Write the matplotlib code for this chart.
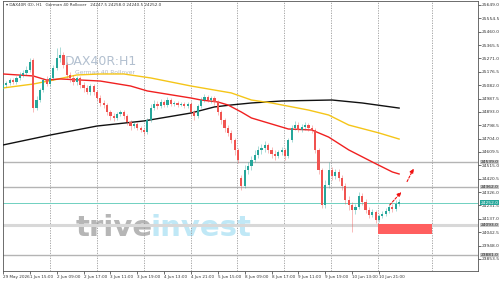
import matplotlib

matplotlib.use("Agg")

import matplotlib.pyplot as plt
import numpy as np

# hourly candles, bar index 0..118 (29 May 21:00 -> 11 Jun 13:00)
opens = [25062, 25083, 25097, 25118, 25104, 25133, 25154, 25168, 25189, 25260,
         24920, 24977, 25048, 25118, 25090, 25133, 25203, 25274, 25295, 25224,
         25154, 25133, 25104, 25133, 25083, 25062, 25034, 25076, 25034, 24991,
         24956, 24942, 24892, 24864, 24850, 24878, 24892, 24864, 24821, 24793,
         24807, 24779, 24765, 24751, 24836, 24920, 24949, 24935, 24963, 24942,
         24977, 24949, 24956, 24942, 24949, 24935, 24949, 24892, 24864, 24935,
         24977, 24998, 24977, 24991, 24963, 24892, 24836, 24779, 24744, 24694,
         24624, 24426, 24369, 24482, 24510, 24553, 24588, 24624, 24638, 24659,
         24624, 24595, 24581, 24609, 24624, 24581, 24694, 24779, 24800, 24765,
         24786, 24800, 24779, 24765, 24624, 24482, 24235, 24376, 24482, 24440,
         24468, 24426, 24369, 24270, 24235, 24199, 24221, 24298, 24256, 24199,
         24164, 24185, 24128, 24157, 24171, 24192, 24221, 24206, 24242]
closes = [25083, 25097, 25118, 25104, 25133, 25154, 25168, 25189, 25246, 24920,
          24977, 25048, 25118, 25090, 25133, 25203, 25274, 25295, 25224, 25154,
          25133, 25104, 25133, 25083, 25062, 25034, 25076, 25034, 24991, 24956,
          24942, 24892, 24864, 24850, 24878, 24892, 24864, 24821, 24793, 24807,
          24779, 24765, 24751, 24836, 24920, 24949, 24935, 24963, 24942, 24977,
          24949, 24956, 24942, 24949, 24935, 24949, 24892, 24864, 24935, 24977,
          24998, 24977, 24991, 24963, 24892, 24836, 24779, 24744, 24694, 24624,
          24553, 24369, 24482, 24510, 24553, 24588, 24624, 24638, 24659, 24624,
          24595, 24581, 24609, 24624, 24581, 24694, 24779, 24800, 24765, 24786,
          24800, 24779, 24765, 24624, 24482, 24235, 24376, 24482, 24440, 24468,
          24426, 24369, 24270, 24235, 24199, 24221, 24298, 24256, 24199, 24164,
          24185, 24128, 24157, 24171, 24192, 24221, 24206, 24242, 24256]
highs = [25097, 25111, 25133, 25133, 25147, 25175, 25189, 25217, 25274, 25274,
         25005, 25062, 25133, 25147, 25154, 25224, 25345, 25352, 25316, 25246,
         25175, 25154, 25147, 25147, 25104, 25083, 25090, 25090, 25048, 25012,
         24977, 24956, 24906, 24885, 24892, 24906, 24906, 24878, 24836, 24821,
         24821, 24793, 24779, 24850, 24949, 24977, 24970, 24984, 24977, 24998,
         24991, 24970, 24970, 24963, 24963, 24963, 24963, 24906, 24949, 24998,
         25020, 25012, 25005, 25005, 24977, 24906, 24850, 24800, 24765, 24708,
         24638, 24447, 24517, 24539, 24581, 24624, 24652, 24666, 24687, 24673,
         24645, 24624, 24624, 24645, 24638, 24708, 24800, 24829, 24821, 24807,
         24821, 24814, 24800, 24779, 24638, 24496, 24411, 24539, 24503, 24489,
         24489, 24447, 24390, 24298, 24256, 24242, 24327, 24320, 24277, 24221,
         24206, 24199, 24171, 24192, 24213, 24242, 24242, 24270, 24277]
lows = [25048, 25069, 25083, 25090, 25090, 25118, 25140, 25154, 25175, 24892,
        24906, 24963, 25034, 25076, 25076, 25118, 25189, 25246, 25203, 25133,
        25104, 25083, 25083, 25062, 25034, 25020, 25012, 25012, 24977, 24935,
        24920, 24871, 24836, 24829, 24836, 24864, 24843, 24800, 24765, 24779,
        24765, 24751, 24729, 24737, 24821, 24906, 24913, 24920, 24928, 24928,
        24935, 24935, 24928, 24935, 24920, 24920, 24864, 24836, 24850, 24920,
        24963, 24963, 24956, 24942, 24871, 24807, 24751, 24722, 24673, 24588,
        24532, 24341, 24355, 24454, 24482, 24539, 24567, 24596, 24609, 24602,
        24567, 24553, 24567, 24588, 24553, 24567, 24680, 24765, 24751, 24751,
        24765, 24758, 24744, 24602, 24454, 24213, 24213, 24355, 24411, 24418,
        24404, 24341, 24242, 24199, 24044, 24171, 24206, 24235, 24178, 24143,
        24150, 24107, 24114, 24143, 24157, 24178, 24185, 24192, 24228]

# moving averages, read at a few bars
ma_red_x = [0, 9, 13, 17, 29, 38, 43, 56, 59, 64, 67, 71, 74, 85, 92, 97, 103, 110, 116, 118]
ma_red_y = [25161, 25147, 25118, 25126, 25111, 25076, 25041, 24991, 24977, 24963,
            24942, 24892, 24850, 24772, 24765, 24715, 24624, 24539, 24468, 24454]
ma_yel_x = [0, 9, 15, 22, 29, 36, 44, 56, 68, 74, 80, 91, 97, 103, 112, 118]
ma_yel_y = [25062, 25090, 25118, 25154, 25161, 25161, 25133, 25076, 25027, 24977,
            24956, 24906, 24871, 24800, 24744, 24701]
ma_blk_x = [0, 14, 28, 42, 56, 63, 68, 74, 83, 98, 107, 118]
ma_blk_y = [24659, 24729, 24793, 24829, 24885, 24928, 24942, 24956, 24970, 24977,
            24956, 24920]

levels = [24539, 24362, 24093, 23881]
level_labels = ["24539.0", "24362.0", "24093.0", "23881.0"]
current = 24252.0
zone = (111.7, 127.8, 24030, 24100)

tick_vals = [23853.5 + 94.5 * k for k in range(20)]
day_seps = [13.9, 28.0, 42.0, 56.0, 69.7, 83.7, 97.7, 111.7, 127.7]
xlabel_pos = [0, 8, 16, 24, 32, 40, 48, 56, 64, 72, 80, 88, 96, 104, 112]
xlabels = ["29 May 2026", "1 Jun 15:00", "2 Jun 09:00", "2 Jun 17:00", "3 Jun 11:00",
           "3 Jun 19:00", "4 Jun 13:00", "4 Jun 21:00", "5 Jun 15:00", "8 Jun 09:00",
           "8 Jun 17:00", "9 Jun 11:00", "9 Jun 19:00", "10 Jun 13:00", "10 Jun 21:00"]

UP = "#26a69a"
DOWN = "#f05350"

fig = plt.figure(figsize=(5.0, 2.81), dpi=100)
ax = fig.add_axes([3 / 500, 10 / 281, 475 / 500, 270 / 281])
ax.set_xlim(0, 141.5)
ax.set_ylim(23768, 25677)

for x in day_seps:
    ax.axvline(x, color="#9a9a9a", ls=(0, (1.5, 1.5)), lw=0.6, zorder=1)

# watermark / logo
ax.text(18.5, 25246, "DAX40R:H1", fontsize=9, color="#9fb0c4", alpha=0.8,
        va="center", zorder=0)
ax.text(21.5, 25170, "German 40 Rollover", fontsize=4.3, color="#b0b8c4",
        va="center", zorder=0)
ax.text(21.5, 24072, "trive", fontsize=21, color="#a4a4a4", alpha=0.8,
        fontweight="bold", va="center", zorder=0)
ax.text(44, 24072, "invest", fontsize=21, color="#b9e6f6", alpha=0.9,
        fontweight="bold", va="center", zorder=0)

for lv in levels:
    ax.axhline(lv, color="#b4b4b4", lw=1.0, zorder=1)
ax.axhline(levels[2], color="#d8d8d8", lw=2.2, zorder=1)
ax.axhline(current, color="#6fd0c0", lw=0.7, zorder=1)

ax.add_patch(plt.Rectangle((zone[0], zone[2]), zone[1] - zone[0], zone[3] - zone[2],
                           color="#ff5f5f", lw=0, zorder=2))

ax.plot(ma_blk_x, ma_blk_y, color="#111111", lw=1.0, zorder=3)
ax.plot(ma_yel_x, ma_yel_y, color="#f5c518", lw=1.0, zorder=3)
ax.plot(ma_red_x, ma_red_y, color="#f02020", lw=1.0, zorder=3)

idx = np.arange(len(opens))
o = np.array(opens)
c = np.array(closes)
col = np.where(c >= o, UP, DOWN)
ax.vlines(idx, lows, highs, colors=col, lw=0.5, alpha=0.55, zorder=4)
ax.bar(idx, np.abs(c - o) + 2, bottom=np.minimum(o, c), width=0.65,
       color=col, lw=0, zorder=5)

# dashed projection arrows
for (x0, y0, x1, y1) in [(114.7, 24221, 119.2, 24341), (120.0, 24383, 122.7, 24510)]:
    ax.annotate("", xy=(x1, y1), xytext=(x0, y0),
                arrowprops=dict(arrowstyle="-|>", color="#f01010", lw=0.8,
                                ls=(0, (2, 1.5)), mutation_scale=6), zorder=6)

ax.yaxis.tick_right()
ax.set_yticks(tick_vals)
ax.set_yticklabels([f"{v:.1f}" for v in tick_vals])
ax.tick_params(axis="y", length=2, width=0.5, labelsize=3.2, pad=1,
               colors="#333333")
ax.set_xticks(xlabel_pos)
ax.set_xticklabels(xlabels, ha="left")
ax.tick_params(axis="x", length=2, width=0.5, labelsize=3.0, pad=1,
               colors="#333333")
for sp in ax.spines.values():
    sp.set_linewidth(0.6)
    sp.set_color("#555555")

# price boxes on the right axis
for lv, lab in zip(levels, level_labels):
    ax.text(1.005, lv, lab, transform=ax.get_yaxis_transform(), fontsize=3.2,
            va="center", ha="left", color="#222222",
            bbox=dict(boxstyle="square,pad=0.1", fc="#c8c8c8", ec="none"))
ax.text(1.005, current, f"{current:.1f}", transform=ax.get_yaxis_transform(),
        fontsize=3.2, va="center", ha="left", color="white",
        bbox=dict(boxstyle="square,pad=0.1", fc="#26a69a", ec="none"))

ax.text(0.006, 0.992, "\u25be DAX40R (D), H1   German 40 Rollover   24247.5 24258.0 24240.5 24252.0",
        transform=ax.transAxes, fontsize=3.0, va="top", ha="left", color="#333333")

fig.savefig("out.png", dpi=100)
